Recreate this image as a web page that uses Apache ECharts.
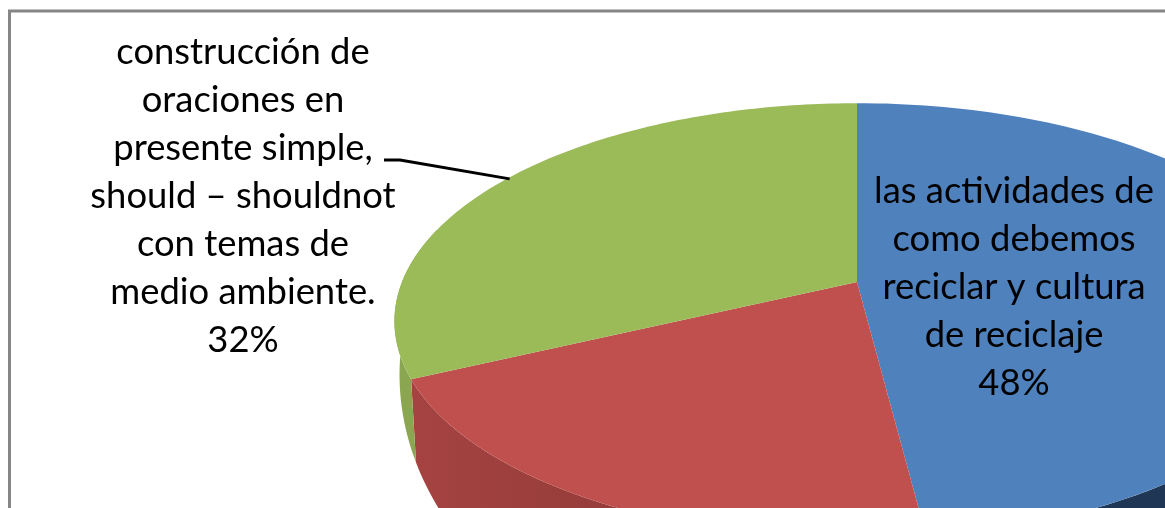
<!DOCTYPE html>
<html>
<head>
<meta charset="utf-8">
<style>html,body{margin:0;padding:0;background:#fff}#c{width:1165px;height:508px}</style>
<script src="https://cdn.jsdelivr.net/npm/echarts@6/dist/echarts.min.js"></script>
</head>
<body>
<div id="c"></div>
<script>
const categories = [
  'las actividades de\ncomo debemos\nreciclar y cultura\nde reciclaje',
  'otros temas',
  'construcción de\noraciones en\npresente simple,\nshould – shouldnot\ncon temas de\nmedio ambiente.'
];
const values = [48, 20, 32];
const showLabel = [true, false, true];
const topColors = ['#4f81bd', '#c0504d', '#9bbb59'];
const labelPos = [[1014, 167], null, [243, 28]];

const total = values.reduce((a, b) => a + b, 0);
const cx = 857;
const topRim = { cy: 282, A: 455, M: 211, K: -0.18 };
const baseRim = { cy: 315, A: 450, M: 320, K: -0.18 };
const FONT = '36.4px Lato, Carlito, sans-serif', LH = 48;

function project(theta, rim) {
  const X = Math.sin(theta), Y = -Math.cos(theta), d = 1 + rim.K * Y;
  return [cx + rim.A * X / d, rim.cy + rim.M * Y / d];
}
function bounds(i) {
  let a = 0;
  for (let j = 0; j < i; j++) a += values[j];
  return [a / total * 2 * Math.PI, (a + values[i]) / total * 2 * Math.PI];
}
function arc(t0, t1, rim) {
  const pts = [], n = 120;
  for (let k = 0; k <= n; k++) pts.push(project(t0 + (t1 - t0) * k / n, rim));
  return pts;
}

function renderWall(params) {
  const i = params.dataIndex;
  let [t0, t1] = bounds(i);
  const fills = [
    '#1f3655',
    { type: 'linear', x: 0, y: 0, x2: 1, y2: 0, colorStops: [{ offset: 0, color: '#a54341' }, { offset: 1, color: '#7f3230' }] },
    '#8aa650'
  ];
  t0 = Math.max(t0, i === 0 ? Math.PI / 2 : t0);
  t1 = i === 2 ? t0 + 0.7 : t1;
  const pts = arc(t0, t1, topRim).concat(arc(t0, t1, baseRim).reverse());
  return { type: 'polygon', shape: { points: pts }, style: { fill: fills[i] } };
}
function renderTop(params) {
  const i = params.dataIndex;
  const [t0, t1] = bounds(i);
  const pts = [[cx, topRim.cy]].concat(arc(t0, t1, topRim));
  return { type: 'polygon', shape: { points: pts }, style: { fill: topColors[i] } };
}
function renderLabel(params) {
  const i = params.dataIndex;
  if (!showLabel[i]) return { type: 'group', children: [] };
  const pct = Math.round(values[i] / total * 100) + '%';
  const children = [{
    type: 'text',
    style: {
      text: categories[i] + '\n' + pct, x: labelPos[i][0], y: labelPos[i][1],
      align: 'center', verticalAlign: 'top', font: FONT, lineHeight: LH, fill: '#000'
    }
  }];
  if (i === 2) {
    const [t0, t1] = bounds(i);
    const p = project((t0 + t1) / 2, topRim);
    children.push({
      type: 'polyline',
      shape: { points: [[384, 160], [400, 160], [p[0] + 3, p[1]]] },
      style: { stroke: '#000', lineWidth: 3, fill: null }
    });
  }
  return { type: 'group', children };
}

const seriesData = values.map(v => [v]);
const chart = echarts.init(document.getElementById('c'), null, { renderer: 'canvas' });
chart.setOption({
  animation: false,
  backgroundColor: '#fff',
  graphic: [{
    type: 'rect', z: 0,
    shape: { x: 9.5, y: 11, width: 2000, height: 2000 },
    style: { fill: 'none', stroke: '#868686', lineWidth: 3 }
  }],
  series: [
    { type: 'custom', coordinateSystem: 'none', silent: true, z: 2, data: seriesData, renderItem: renderWall },
    { type: 'custom', coordinateSystem: 'none', silent: true, z: 3, data: seriesData, renderItem: renderTop },
    { type: 'custom', coordinateSystem: 'none', silent: true, z: 4, data: seriesData, renderItem: renderLabel }
  ]
});
</script>
</body>
</html>
